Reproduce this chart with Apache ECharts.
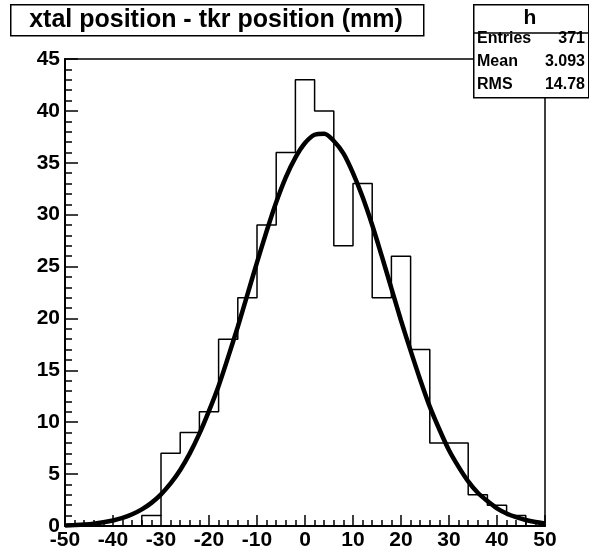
<!DOCTYPE html>
<html>
<head>
<meta charset="utf-8">
<script src="https://cdn.jsdelivr.net/npm/echarts@6/dist/echarts.min.js"></script>
<style>
html,body{margin:0;padding:0;background:#fff;}
#chart{width:589px;height:552px;}
</style>
</head>
<body>
<div id="chart"></div>
<script>
// Histogram bins (width 4 mm) and counts
const binEdges = [-50,-46,-42,-38,-34,-30,-26,-22,-18,-14,-10,-6,-2,2,6,10,14,18,22,26,30,34,38,42,46,50];
const counts   = [0,0,0,0,1,7,9,11,18,22,29,36,43,40,27,33,22,26,17,8,8,3,2,1,0];

// Gaussian fit curve
const fitX = [-50,-48,-46,-44,-42,-40,-38,-36,-34,-32,-30,-28,-26,-24,-22,-20,-18,-16,-14,-12,-10,-8,-6,-4,-2,0,2,4,6,8,10,12,14,16,18,20,22,24,26,28,30,32,34,36,38,40,42,44,46,48,50];
const fitY = [0.06,0.1,0.15,0.23,0.36,0.53,0.78,1.13,1.6,2.23,3.05,4.1,5.4,7.0,8.9,11.1,13.5,16.3,19.2,22.3,25.4,28.4,31.2,33.6,35.5,36.9,37.7,37.8,37.1,35.9,34.0,31.7,29.0,26.0,22.9,19.8,16.9,14.1,11.5,9.3,7.3,5.7,4.3,3.2,2.4,1.7,1.2,0.85,0.58,0.39,0.25];

const xTicks = [-50,-40,-30,-20,-10,0,10,20,30,40,50];
const yTicks = [0,5,10,15,20,25,30,35,40,45];

const title = 'xtal position - tkr position (mm)';
const statsName = 'h';
const statsLabels = ['Entries','Mean','RMS'];
const statsValues = ['371','3.093','14.78'];

// build step outline
const stepPts = [];
for (let i = 0; i < counts.length; i++) {
  stepPts.push([binEdges[i], counts[i]]);
  stepPts.push([binEdges[i+1], counts[i]]);
}
const fitPts = fitX.map((x, i) => [x, fitY[i]]);

const FONT = '"Liberation Sans", Arial, Helvetica, sans-serif';
const chart = echarts.init(document.getElementById('chart'), null, {renderer: 'canvas'});

const graphics = [
  {type:'rect', left:10, top:4, shape:{width:413, height:31}, style:{fill:'#fff', stroke:'#000', lineWidth:1.5}, z:10},
  {type:'text', x:216, y:20, style:{text:title, font:'bold 25px ' + FONT, fill:'#000', textAlign:'center', textVerticalAlign:'middle'}, z:11},
  {type:'rect', left:473, top:4, shape:{width:115, height:93}, style:{fill:'#fff', stroke:'#000', lineWidth:1.5}, z:10},
  {type:'line', shape:{x1:473, y1:33, x2:588, y2:33}, style:{stroke:'#000', lineWidth:1.5}, z:11},
  {type:'text', x:530, y:18, style:{text:statsName, font:'bold 21px ' + FONT, fill:'#000', textAlign:'center', textVerticalAlign:'middle'}, z:11}
];
const rowY = [39, 62, 85];
statsLabels.forEach((l, i) => {
  graphics.push({type:'text', x:477, y:rowY[i], style:{text:l, font:'bold 16px ' + FONT, fill:'#000', textAlign:'left', textVerticalAlign:'middle'}, z:11});
  graphics.push({type:'text', x:585, y:rowY[i], style:{text:statsValues[i], font:'bold 16px ' + FONT, fill:'#000', textAlign:'right', textVerticalAlign:'middle'}, z:11});
});

chart.setOption({
  animation: false,
  backgroundColor: '#fff',
  grid: {left:65, right:44, top:59, bottom:26, show:true, borderColor:'#000', borderWidth:1.5, backgroundColor:'transparent'},
  xAxis: {
    type:'value', min:-50, max:50, interval:10,
    axisLine:{show:true, onZero:false, lineStyle:{color:'#000', width:2}},
    axisTick:{show:true, inside:true, length:11, lineStyle:{color:'#000', width:1.5}},
    minorTick:{show:true, splitNumber:5, length:6, lineStyle:{color:'#000', width:1.5}},
    splitLine:{show:false},
    axisLabel:{show:true, margin:4, color:'#000', fontWeight:'bold', fontSize:21, fontFamily:FONT,
      formatter: v => xTicks.includes(v) ? String(v) : ''}
  },
  yAxis: {
    type:'value', min:0, max:45, interval:5,
    axisLine:{show:true, onZero:false, lineStyle:{color:'#000', width:2}},
    axisTick:{show:true, inside:true, length:13, lineStyle:{color:'#000', width:1.5}},
    minorTick:{show:true, splitNumber:5, length:7, lineStyle:{color:'#000', width:1.5}},
    splitLine:{show:false},
    axisLabel:{show:true, margin:5, color:'#000', fontWeight:'bold', fontSize:21, fontFamily:FONT,
      formatter: v => yTicks.includes(v) ? String(v) : ''}
  },
  series: [
    {type:'line', data:stepPts, symbol:'none', lineStyle:{color:'#000', width:1.5}, z:2},
    {type:'line', data:fitPts, symbol:'none', smooth:0.3, lineStyle:{color:'#000', width:4.5}, z:3}
  ],
  graphic: graphics
});
</script>
</body>
</html>
